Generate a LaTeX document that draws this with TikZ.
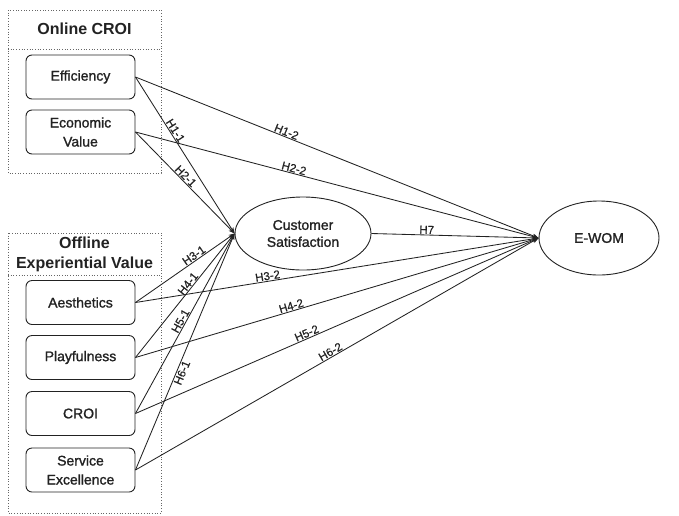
\documentclass[tikz,border=0pt]{standalone}
\usepackage{fontspec}
\setmainfont{Liberation Sans}
\newfontfamily\medfont[FakeBold=1.3]{Liberation Sans}
\newfontfamily\lblfont[FakeBold=0.6]{Liberation Sans}
\usetikzlibrary{arrows.meta,shapes.geometric}
\definecolor{ink}{HTML}{222222}
\begin{document}
\begin{tikzpicture}[x=1pt,y=-1pt,
  grp/.style={draw=gray!80!black, dotted, line width=0.7pt},
  var/.style={draw=ink, rounded corners=6pt, line width=0.9pt, minimum width=109pt, minimum height=44pt, align=center, inner sep=0pt, text=ink, font=\medfont\fontsize{14}{19}\selectfont},
  lat/.style={draw=ink, ellipse, line width=0.9pt, align=center, inner sep=0pt, text=ink, font=\medfont\fontsize{14}{17}\selectfont},
  hdr/.style={align=center, text=ink, font=\bfseries\fontsize{16}{20}\selectfont},
  arr/.style={draw=ink, line width=0.85pt, -{Stealth[length=6pt,width=4.5pt]}},
  hl/.style={font=\lblfont\fontsize{11.5}{12}\selectfont, text=ink, sloped, inner sep=0.8pt}]
\useasboundingbox (0,0) rectangle (679,515);
% groups
\draw[grp] (8,10) rectangle (161,173);
\draw[grp] (8,49) -- (161,49);
\draw[grp] (8,233) rectangle (161,513);
\draw[grp] (8,275) -- (161,275);
\node[hdr] (h1) at (84.5,29) {Online CROI};
\node[hdr] (h2) at (84.5,254) {Offline\\Experiential Value};
% variables
\node[var] (eff) at (80.5,77) {Efficiency};
\node[var] (eco) at (80.5,132) {Economic\\Value};
\node[var] (aes) at (80.5,302.5) {Aesthetics};
\node[var] (pla) at (80.5,357.5) {Playfulness};
\node[var] (cro) at (80.5,413.5) {CROI};
\node[var] (ser) at (80.5,470) {Service\\Excellence};
\node[lat, minimum width=136pt, minimum height=73pt] (cs) at (303,233.5) {Customer\\Satisfaction};
\node[lat, minimum width=120pt, minimum height=74pt] (ew) at (599,238) {E-WOM};
% paths to satisfaction
\draw[arr] (eff.east) -- node[hl,pos=0.36,above]{H1-1} (cs.west);
\draw[arr] (eco.east) -- node[hl,pos=0.47,above]{H2-1} (cs.west);
\draw[arr] (aes.east) -- node[hl,pos=0.62,above]{H3-1} (cs.west);
\draw[arr] (pla.east) -- node[hl,pos=0.57,above]{H4-1} (cs.west);
\draw[arr] (cro.east) -- node[hl,pos=0.50,above]{H5-1} (cs.west);
\draw[arr] (ser.east) -- node[hl,pos=0.42,below]{H6-1} (cs.west);
% paths to e-wom
\draw[arr] (eff.east) -- node[hl,pos=0.37,above]{H1-2} (ew.west);
\draw[arr] (eco.east) -- node[hl,pos=0.39,above]{H2-2} (ew.west);
\draw[arr] (aes.east) -- node[hl,pos=0.33,above]{H3-2} (ew.west);
\draw[arr] (pla.east) -- node[hl,pos=0.39,above]{H4-2} (ew.west);
\draw[arr] (cro.east) -- node[hl,pos=0.43,above]{H5-2} (ew.west);
\draw[arr] (ser.east) -- node[hl,pos=0.49,above]{H6-2} (ew.west);
\draw[arr] (cs.east) -- node[hl,pos=0.33,above]{H7} (ew.west);
\end{tikzpicture}
\end{document}
